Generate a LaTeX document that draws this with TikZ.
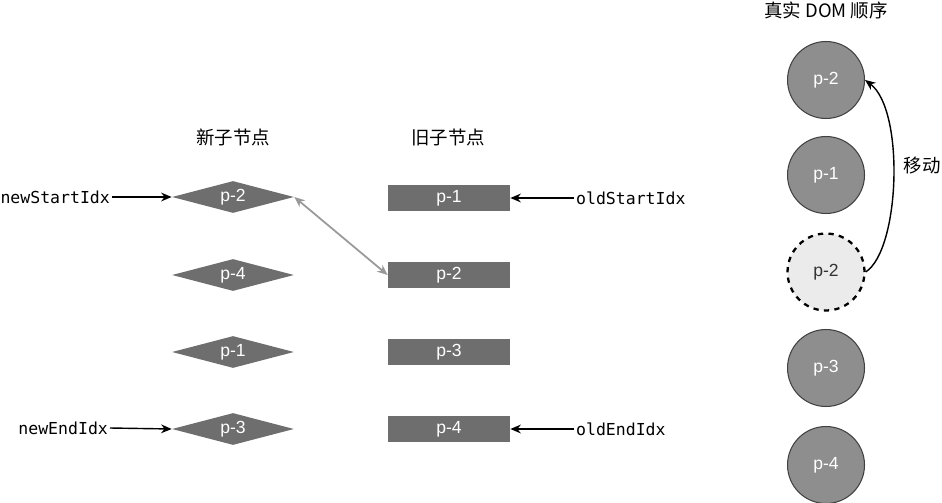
\documentclass[tikz,border=0pt]{standalone}
\usepackage{fontspec}
\setmainfont{Liberation Sans}
\newfontfamily\cjk{Noto Sans CJK SC}
\newfontfamily\mono{DejaVu Sans Mono}
\usetikzlibrary{shapes.geometric,arrows.meta}
\definecolor{boxg}{HTML}{6E6E6E}
\definecolor{circg}{HTML}{8E8E8E}
\definecolor{lightg}{HTML}{EBEBEB}
\begin{document}
\begin{tikzpicture}[x=0.02cm,y=-0.02cm,
 dia/.style={diamond,aspect=3.8,fill=boxg,text=white,minimum width=2.44cm,minimum height=0.64cm,inner sep=0pt,font=\fontsize{10}{12}\selectfont},
 rbox/.style={rectangle,fill=boxg,text=white,minimum width=2.44cm,minimum height=0.52cm,inner sep=0pt,font=\fontsize{10}{12}\selectfont},
 circ/.style={circle,fill=circg,draw=black!75,line width=0.6pt,minimum size=1.54cm,inner sep=0pt,text=white,font=\fontsize{10}{12}\selectfont},
 lab/.style={font=\mono\fontsize{9.4}{11}\selectfont,inner sep=1pt},
 hd/.style={font=\cjk\fontsize{10.5}{13}\selectfont},
 arr/.style={-{Stealth[length=6pt,width=5pt]},line width=0.8pt}]
\useasboundingbox (0,0) rectangle (942,503);
\node[hd] (h1) at (233,137) {新子节点};
\node[hd] (h2) at (448,137) {旧子节点};
\node[hd] (h3) at (826,10) {真实 DOM 顺序};
\foreach \n/\t/\y in {d1/p-2/197,d2/p-4/275,d3/p-1/352,d4/p-3/429}
  \node[dia] (\n) at (233,\y) {\t};
\foreach \n/\t/\y in {r1/p-1/198,r2/p-2/275,r3/p-3/352,r4/p-4/429}
  \node[rbox] (\n) at (449,\y) {\t};
\node[lab,anchor=east] (ns) at (112,197) {newStartIdx};
\node[lab,anchor=east] (ne) at (110,428) {newEndIdx};
\node[lab,anchor=west] (os) at (574,198) {oldStartIdx};
\node[lab,anchor=west] (oe) at (574,429) {oldEndIdx};
\draw[arr] (ns.east) -- (d1.west);
\draw[arr] (ne.east) -- (d4.west);
\draw[arr] (os.west) -- (r1.east);
\draw[arr] (oe.west) -- (r4.east);
\draw[{Stealth[length=6pt,width=5pt]}-{Stealth[length=6pt,width=5pt]},draw=black!40,line width=1pt] (d1.east) -- (r2.west);
\node[circ] (c1) at (826,80) {p-2};
\node[circ] (c2) at (826,175) {p-1};
\node[circ,fill=lightg,draw=black,dashed,line width=1.3pt,text=black!80] (c3) at (826,272) {p-2};
\node[circ] (c4) at (826,368) {p-3};
\node[circ] (c5) at (826,465) {p-4};
\draw[arr] (c3.east) .. controls (900,250) and (905,110) .. (c1.east);
\node[hd] (mv) at (922,166) {移动};
\end{tikzpicture}
\end{document}
